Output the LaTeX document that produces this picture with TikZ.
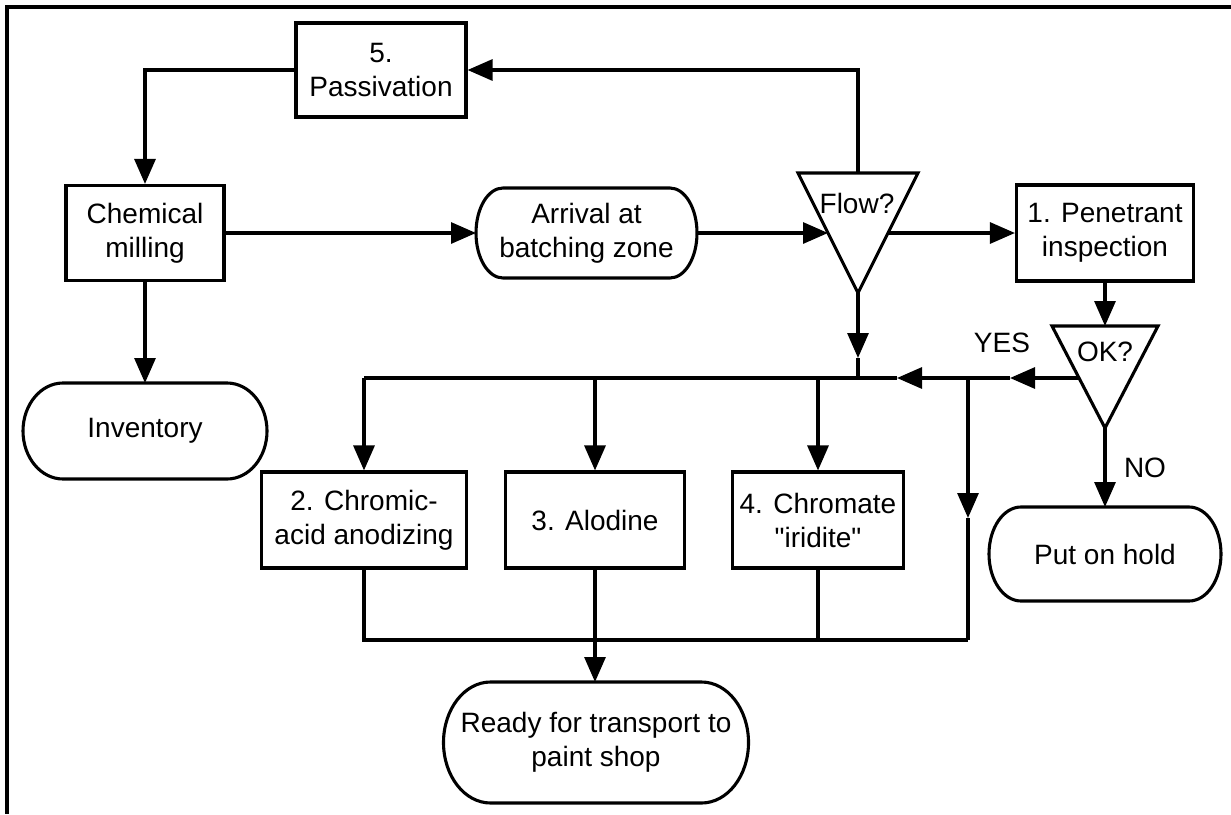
\documentclass[tikz,border=0pt]{standalone}
\usepackage{fontspec}
\setmainfont{Liberation Sans}[Ligatures=TeXOff]
\usetikzlibrary{arrows.meta}

% outline of a terminal: flat top and bottom, elliptical ends
% #1 node name, #2 depth of the rounded end, #3 half height
\newcommand{\drawterminal}[3]{%
  \draw ([xshift=#2pt]#1.north west)
    arc[start angle=-90, end angle=-270, x radius=#2, y radius=#3]
    -- ([xshift=-#2pt]#1.south east)
    arc[start angle=90, end angle=-90, x radius=#2, y radius=#3]
    -- cycle;}

\begin{document}
\begin{tikzpicture}[x=1pt,y=-1pt,
  line width=3.1pt,
  every node/.style={font=\fontsize{28}{34}\selectfont},
  proc/.style={draw, rectangle, inner sep=0pt, align=center, minimum height=96pt},
  term/.style={rectangle, inner sep=0pt, outer sep=0pt, align=center},
  lbl/.style={inner sep=0pt},
  tip/.style={-{Triangle[length=25pt,width=21pt]}},
  decision/.style={line join=miter},
]
\useasboundingbox (0,0) rectangle (1231,814);

% outer frame (top and left edges)
\draw[line width=3.2pt] (1231,7) -- (7,7) -- (7,814);

% process boxes
\node[proc, minimum width=170pt, minimum height=94pt] (pas) at (381,70) {5.\\Passivation};
\node[proc, minimum width=158pt, minimum height=95pt] (chem) at (145,233) {Chemical\\milling};
\node[proc, minimum width=177pt, minimum height=96pt] (pen) at (1105,233) {1. Penetrant\\inspection};
\node[proc, minimum width=205pt] (cr) at (364,520) {2. Chromic-\\acid anodizing};
\node[proc, minimum width=179pt] (al) at (595,520) {3. Alodine};
\node[proc, minimum width=171pt] (ch) at (818,520) {4. Chromate\\"iridite"};

% terminals
\node[term, minimum width=221pt, minimum height=90pt] (arr) at (586.5,233) {Arrival at\\batching zone};
\drawterminal{arr}{27}{45}
\node[term, minimum width=244pt, minimum height=96pt] (inv) at (145,431) {Inventory};
\drawterminal{inv}{40}{48}
\node[term, minimum width=232pt, minimum height=94pt] (hold) at (1105,554) {Put on hold};
\drawterminal{hold}{32}{47}
\node[term, minimum width=305pt, minimum height=121pt] (ready) at (596,742.5) {Ready for transport to\\paint shop};
\drawterminal{ready}{47}{60.5}

% decision triangles
\draw[decision] (798,173) -- (918,173) -- (858,293) -- cycle;
\node[lbl] (flow) at (857,203) {Flow?};
\coordinate (flowT) at (858,173);
\coordinate (flowB) at (858,293);
\coordinate (flowW) at (828,233);
\coordinate (flowE) at (888,233);

\draw[decision] (1052,326) -- (1158,326) -- (1105,428) -- cycle;
\node[lbl] (ok) at (1105,352) {OK?};
\coordinate (okT) at (1105,326);
\coordinate (okB) at (1105,428);
\coordinate (okW) at (1079,378);

% junctions on the distribution and collection lines
\coordinate (jL) at (364,378);
\coordinate (jA) at (595,378);
\coordinate (jC) at (818,378);
\coordinate (jF) at (858,378);
\coordinate (jY) at (968,378);
\coordinate (bL) at (364,640);
\coordinate (bC) at (818,640);
\coordinate (bR) at (968,640);
% arrowheads placed along lines
\coordinate (mF) at (858,358);
\coordinate (mY1) at (1010,378);
\coordinate (mY2) at (897,378);
\coordinate (mR) at (968,518);

% main flow
\draw[tip] (flowT) |- (pas.east);
\draw[tip] (pas.west) -| (chem.north);
\draw[tip] (chem.east) -- (arr.west);
\draw[tip] (arr.east) -- (flowW);
\draw[tip] (flowE) -- (pen.west);
\draw[tip] (chem.south) -- (inv.north);
\draw[tip] (pen.south) -- (okT);
\draw[tip] (okB) -- (hold.north);

% YES branch back to the treatment line
\draw[tip] (okW) -- (mY1);
\draw (mY1) -- (jY);
\draw[tip] (jY) -- (mY2);
\draw (mY2) -- (jL);
\draw[tip] (flowB) -- (mF);
\draw (mF) -- (jF);

% treatments
\draw[tip] (jL) -- (cr.north);
\draw[tip] (jA) -- (al.north);
\draw[tip] (jC) -- (ch.north);
\draw[tip] (jY) -- (mR);
\draw (mR) -- (bR);

% collection line
\draw (cr.south) -- (bL) -- (bR);
\draw (ch.south) -- (bC);
\draw[tip] (al.south) -- (al.south |- ready.north);

% branch labels
\node[lbl] (yes) at (1002,343) {YES};
\node[lbl] (no) at (1145,468) {NO};
\end{tikzpicture}
\end{document}
